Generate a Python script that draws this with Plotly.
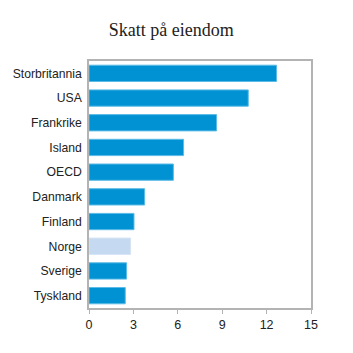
import plotly.graph_objects as go

countries = ["Storbritannia", "USA", "Frankrike", "Island", "OECD",
             "Danmark", "Finland", "Norge", "Sverige", "Tyskland"]
values = [12.67, 10.76, 8.62, 6.39, 5.70, 3.76, 3.04, 2.81, 2.54, 2.45]
colors = ["#c5d9f1" if c == "Norge" else "#0092d2" for c in countries]
lines = ["#d6e3f4" if c == "Norge" else "#5cbbe6" for c in countries]

fig = go.Figure(go.Bar(
    x=values, y=countries, orientation="h",
    marker=dict(color=colors, line=dict(color=lines, width=1)),
    width=0.66,
))

fig.update_layout(
    width=353, height=353,
    margin=dict(l=89, r=42, t=61, b=45),
    paper_bgcolor="white", plot_bgcolor="white",
    showlegend=False,
    title=dict(text="Skatt på eiendom", x=0.485, xanchor="center", y=0.915, yanchor="middle",
               font=dict(family="Liberation Serif", size=18, color="#222")),
    font=dict(family="Liberation Sans", size=12.2, color="#222"),
)
fig.update_xaxes(range=[0, 15], tickvals=[0, 3, 6, 9, 12, 15], showgrid=False,
                 zeroline=False, showline=True, linecolor="#b3b3b3", linewidth=1.5, mirror=True,
                 ticks="outside", ticklen=4, tickcolor="#b3b3b3", fixedrange=True,
                 tickfont=dict(size=12.5, color="#222"))
fig.update_yaxes(autorange=False, range=[9.5, -0.5], showgrid=False, showline=True,
                 linecolor="#b3b3b3", linewidth=1.5, mirror=True, ticks="", ticklen=0,
                 ticklabelstandoff=3,
                 tickfont=dict(size=12.2, color="#222"))
fig.update_yaxes(categoryorder="array", categoryarray=countries)

fig.write_html("out.html")
